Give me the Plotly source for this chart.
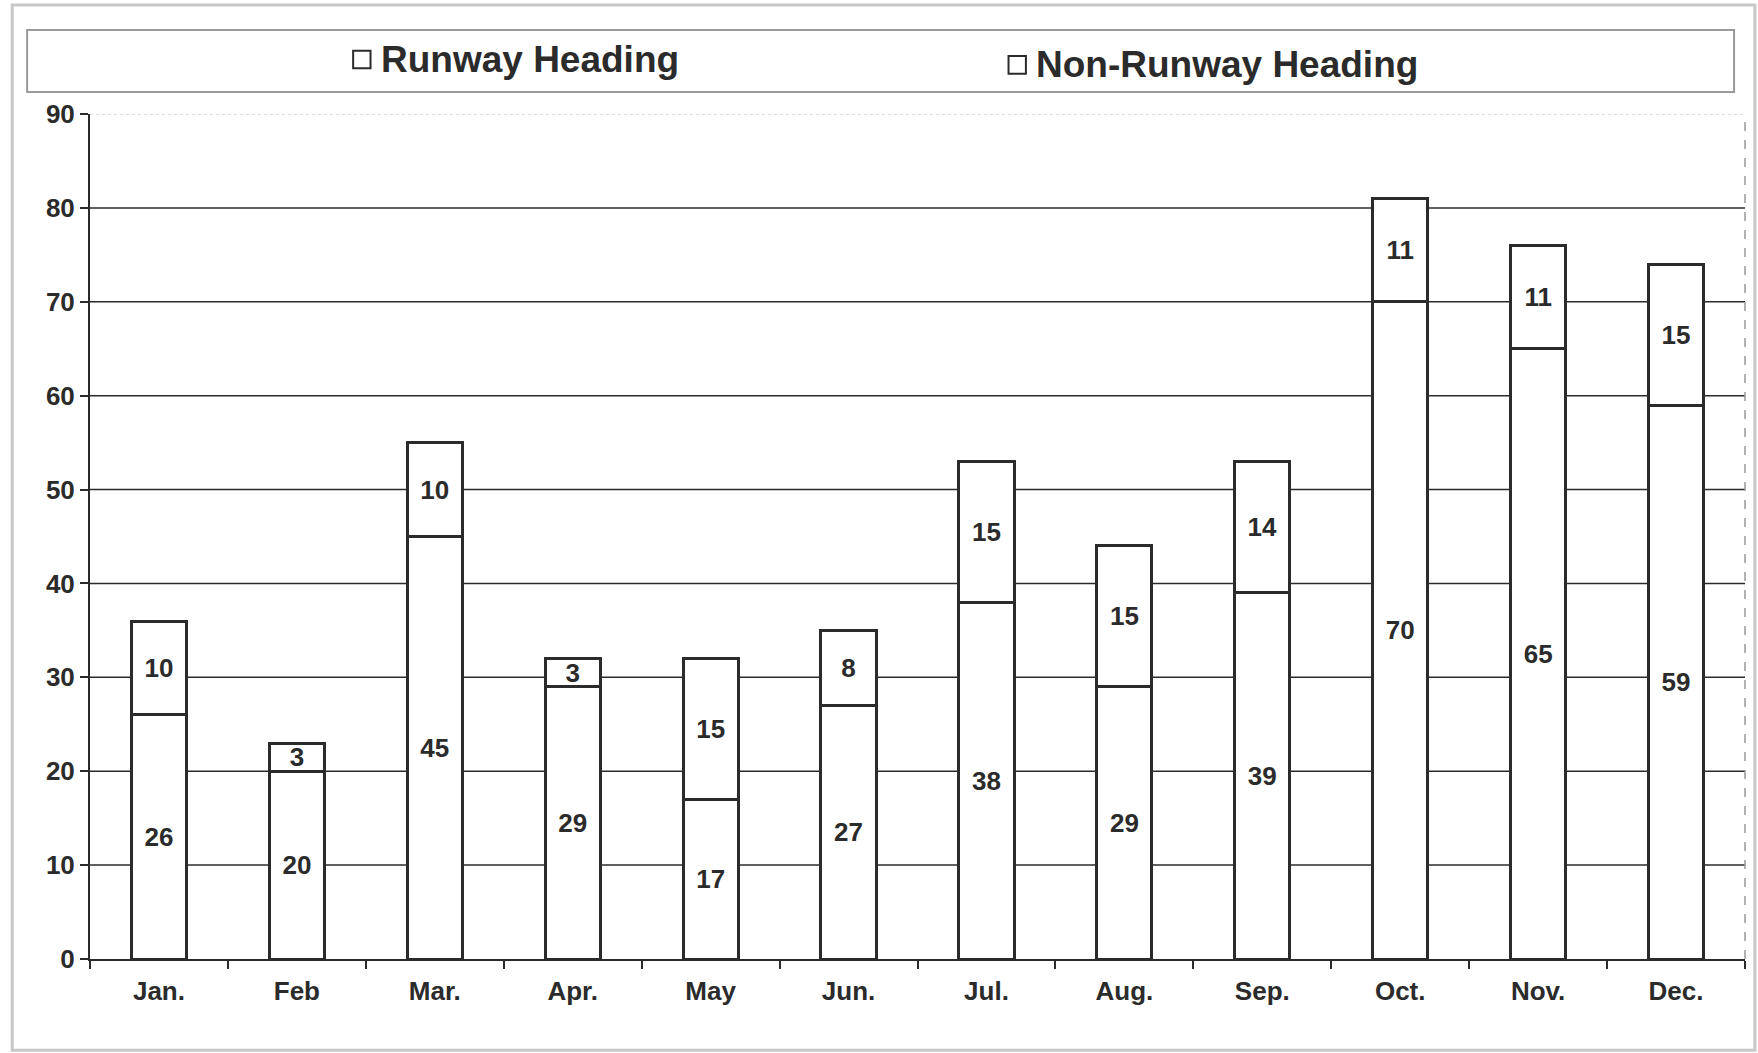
import plotly.graph_objects as go

# Monthly counts, stacked: runway-heading at the bottom, non-runway-heading on top
months = ["Jan.", "Feb", "Mar.", "Apr.", "May", "Jun.", "Jul.", "Aug.", "Sep.", "Oct.", "Nov.", "Dec."]
runway_heading = [26, 20, 45, 29, 17, 27, 38, 29, 39, 70, 65, 59]
non_runway_heading = [10, 3, 10, 3, 15, 8, 15, 15, 14, 11, 11, 15]
series_names = ["Runway Heading", "Non-Runway Heading"]
y_ticks = [0, 10, 20, 30, 40, 50, 60, 70, 80, 90]

INK = "#2b2b2b"
FONT = "Liberation Sans, Arial, sans-serif"

fig = go.Figure()
for name, vals in zip(series_names, [runway_heading, non_runway_heading]):
    fig.add_trace(go.Bar(
        x=months, y=vals, name=name,
        width=0.4,
        marker=dict(color="white", line=dict(color=INK, width=3)),
        text=[str(v) for v in vals],
        textposition="inside", insidetextanchor="middle", textangle=0,
        constraintext="none",
        textfont=dict(family=FONT, size=26, color=INK, weight="bold"),
        showlegend=False,
    ))

shapes = []
# horizontal gridlines (the top edge is left faint)
for v in y_ticks[1:-1]:
    shapes.append(dict(type="line", xref="paper", yref="y", x0=0, x1=1, y0=v, y1=v,
                       line=dict(color=INK, width=1.5), layer="below"))
shapes.append(dict(type="line", xref="paper", yref="y", x0=0, x1=1, y0=y_ticks[-1], y1=y_ticks[-1],
                   line=dict(color="#bbbbbb", width=1, dash="dot"), layer="below"))
shapes.append(dict(type="line", xref="paper", yref="paper", x0=1, x1=1, y0=0, y1=1,
                   line=dict(color="#999999", width=1.5, dash="dash"), layer="below"))
# outer chart frame
shapes.append(dict(type="rect", xref="paper", yref="paper",
                   x0=-0.047, x1=1.006, y0=-0.108, y1=1.129,
                   line=dict(color="#c8c8c8", width=3)))
# legend box
shapes.append(dict(type="rect", xref="paper", yref="paper",
                   x0=-0.038, x1=0.9934, y0=1.026, y1=1.0994,
                   line=dict(color="#9a9a9a", width=2), fillcolor="white"))

# legend entries: square swatch + label
legend_items = [(0.159, 1.0645), (0.555, 1.058)]
annotations = []
for name, (lx, ly) in zip(series_names, legend_items):
    shapes.append(dict(type="rect", xref="paper", yref="paper",
                       x0=lx, x1=lx + 0.0105, y0=ly - 0.0105, y1=ly + 0.0105,
                       line=dict(color=INK, width=2), fillcolor="white"))
    annotations.append(dict(xref="paper", yref="paper", x=lx + 0.0155, y=ly,
                            xanchor="left", yanchor="middle", showarrow=False,
                            text=name,
                            font=dict(family=FONT, size=37, color=INK, weight="bold")))

fig.update_layout(
    width=1758, height=1053,
    margin=dict(l=90, r=13, t=114, b=94),
    paper_bgcolor="white", plot_bgcolor="white",
    barmode="stack", bargap=0.6,
    uniformtext=dict(minsize=26, mode="show"),
    shapes=shapes, annotations=annotations,
    xaxis=dict(
        showgrid=False, showline=True, linecolor=INK, linewidth=2,
        ticks="outside", tickson="boundaries", ticklen=8, tickwidth=1.5, tickcolor=INK,
        tickfont=dict(family=FONT, size=26, color=INK, weight="bold"),
        ticklabelstandoff=8,
    ),
    yaxis=dict(
        range=[0, 90], tickvals=y_ticks, showgrid=False, zeroline=False,
        showline=True, linecolor=INK, linewidth=2,
        ticks="outside", ticklen=8, tickwidth=1.5, tickcolor=INK,
        tickfont=dict(family=FONT, size=26, color=INK, weight="bold"),
    ),
)

fig.write_html("out.html")
